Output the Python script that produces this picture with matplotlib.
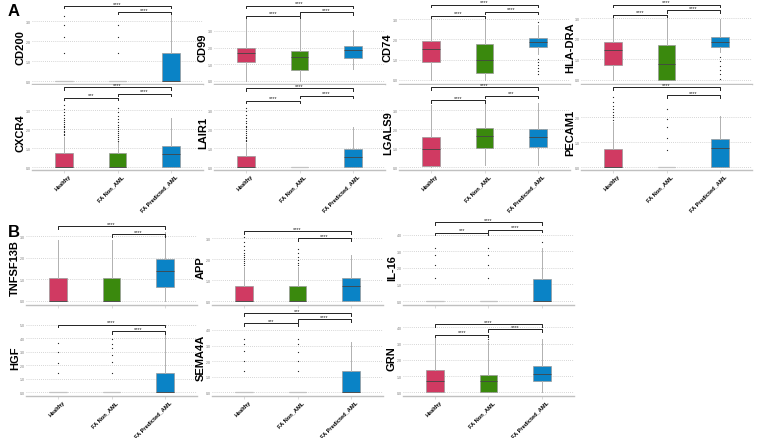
import numpy as np
import matplotlib
matplotlib.use('Agg')
import matplotlib.pyplot as plt
from matplotlib.transforms import ScaledTranslation

plt.rcParams['font.family'] = ['Liberation Sans', 'DejaVu Sans']

groups = ['Healthy', 'FA Non_AML', 'FA Predicted_AML']
genes = ['CD200', 'CD99', 'CD74', 'HLA-DRA',
         'CXCR4', 'LAIR1', 'LGALS9', 'PECAM1',
         'TNFSF13B', 'APP', 'IL-16',
         'HGF', 'SEMA4A', 'GRN']

# box statistics per gene: (Healthy, FA Non_AML, FA Predicted_AML)
whisker_low = [(0, 0, 0), (0, 0, 0.72), (0, 0, 1.3), (0, 0, 1.35),
               (0, 0, 0), (0, 0, 0), (0, 0.1, 0.1), (0, 0, 0),
               (0, 0, 0), (0, 0, 0), (0, 0, 0),
               (0, 0, 0), (0, 0, 0), (0, 0, 0)]
quart1 = [(0, 0, 0), (1.12, 0.68, 1.38), (0.90, 0.33, 1.64), (0.75, 0, 1.61),
          (0, 0, 0), (0, 0, 0), (0.05, 1.0, 1.05), (0, 0, 0),
          (0, 0, 0.63), (0, 0, 0), (0, 0, 0),
          (0, 0, 0), (0, 0, 0), (0, 0, 0.68)]
medians = [(0, 0, 0), (1.68, 1.42, 1.87), (1.53, 0.99, 1.86), (1.48, 0.78, 1.84),
           (0, 0, 0.7), (0, 0, 0.53), (0.95, 1.63, 1.6), (0, 0, 0.76),
           (0, 0, 1.37), (0, 0, 0.7), (0, 0, 0),
           (0, 0, 0), (0, 0, 0), (0.68, 0.68, 1.13)]
quart3 = [(0, 0, 1.4), (1.98, 1.81, 2.08), (1.9, 1.77, 2.08), (1.84, 1.71, 2.10),
          (0.74, 0.74, 1.1), (0.58, 0, 0.95), (1.58, 2.05, 2.0), (0.73, 0, 1.12),
          (1.06, 1.06, 1.94), (0.70, 0.70, 1.1), (0, 0, 1.33),
          (0, 0, 1.43), (0, 0, 1.38), (1.37, 1.08, 1.6)]
whisker_high = [(0, 0, 3.45), (3.7, 3.7, 3.07), (3.1, 3.1, 2.7), (3.1, 3.1, 2.98),
                (1.6, 1.35, 2.58), (1.3, 0, 2.1), (3.3, 3.5, 3.4), (1.8, 0, 2.06),
                (2.84, 2.84, 3.19), (1.6, 1.6, 2.19), (0, 0, 3.17),
                (0, 0, 4.5), (0, 0, 3.2), (3.48, 3.17, 3.28)]

outliers = [
    ([1.4, 2.2, 2.8, 3.25], [1.4, 2.2, 2.8], []),
    ([], [], []),
    ([], [], [0.3, 0.45, 0.6, 0.75, 0.9, 1.05, 2.85]),
    ([], [], [0.05, 0.3, 0.5, 0.7, 0.9, 1.1]),
    ([1.68, 1.76, 1.85, 1.93, 2.02, 2.1, 2.2, 2.3, 2.4, 2.5, 2.62, 2.75, 2.9, 3.05, 3.3, 3.55],
     [1.4, 1.5, 1.6, 1.7, 1.8, 1.9, 2.0, 2.12, 2.25, 2.4, 2.55, 2.7, 2.9, 3.1], []),
    ([1.38, 1.46, 1.54, 1.62, 1.7, 1.8, 1.9, 2.0, 2.1, 2.2, 2.32, 2.45, 2.6, 2.75, 2.95, 3.1], [], []),
    ([], [], []),
    ([1.9, 2.0, 2.1, 2.2, 2.3, 2.45, 2.6, 2.8], [0.69, 1.15, 1.6, 1.93, 2.3], []),
    ([], [], []),
    ([1.7, 1.8, 1.9, 2.0, 2.1, 2.2, 2.3, 2.45, 2.6, 2.8, 3.05], [1.7, 1.8, 1.95, 2.1, 2.3, 2.5], []),
    ([1.37, 2.17, 2.77, 3.17], [1.37, 2.17, 2.77, 3.17], [3.53]),
    ([1.43, 2.2, 3.0, 3.65], [1.43, 2.22, 2.76, 3.26, 3.58, 3.95], []),
    ([1.38, 2.03, 2.67, 3.1, 3.42], [1.38, 2.03, 2.6, 3.1, 3.42], []),
    ([], [3.3, 3.4, 3.5], []),
]

# significance brackets: (group a, group b, height, label)
brackets = [
    [(0, 2, 3.75, '****'), (1, 2, 3.45, '****')],
    [(0, 2, 4.51, '****'), (0, 1, 3.91, '****'), (1, 2, 4.11, '****')],
    [(0, 2, 3.71, '****'), (0, 1, 3.17, '****'), (1, 2, 3.38, '****')],
    [(0, 2, 3.67, '****'), (0, 1, 3.17, '****'), (1, 2, 3.41, '****')],
    [(0, 2, 4.2, '****'), (0, 1, 3.65, '***'), (1, 2, 3.86, '****')],
    [(0, 2, 4.16, '****'), (0, 1, 3.5, '****'), (1, 2, 3.77, '****')],
    [(0, 2, 4.2, '****'), (0, 1, 3.54, '****'), (1, 2, 3.77, '***')],
    [(0, 2, 3.19, '****'), (1, 2, 2.87, '****')],
    [(0, 2, 3.46, '****'), (1, 2, 3.1, '****')],
    [(0, 2, 3.32, '****'), (1, 2, 3.0, '****')],
    [(0, 2, 4.74, '****'), (0, 1, 4.1, '***'), (1, 2, 4.3, '****')],
    [(0, 2, 5.0, '****'), (1, 2, 4.52, '****')],
    [(0, 2, 5.06, '***'), (0, 1, 4.42, '***'), (1, 2, 4.69, '****')],
    [(0, 2, 4.2, '****'), (0, 1, 3.54, '****'), (1, 2, 3.9, '****')],
]

y_limits = [(-0.15, 4.0), (-0.18, 4.79), (-0.2, 3.9), (-0.2, 3.85),
            (-0.14, 4.33), (-0.14, 4.33), (-0.14, 4.33), (-0.1, 3.27),
            (-0.19, 3.75), (-0.19, 3.86), (-0.24, 4.88),
            (-0.27, 6.1), (-0.24, 5.28), (-0.23, 5.07)]
top_tick = [3, 3, 3, 3, 3, 3, 3, 2, 3, 3, 4, 5, 4, 4]

colors = ['#D03A62', '#3A890D', '#0A83C6']

# layout in pixels
W, H = 761, 439
unit = 53.5
cols_a = [64, 246, 431, 613]
cols_b = [58, 244, 435]
rows = [(2, 85), (86, 171), (221, 306), (311, 397)]

panels = []
for i in range(4):
    panels.append((cols_a[i], rows[0], False))
for i in range(4):
    panels.append((cols_a[i], rows[1], True))
for i in range(3):
    panels.append((cols_b[i], rows[2], False))
for i in range(3):
    panels.append((cols_b[i], rows[3], True))

fig = plt.figure(figsize=(W / 100, H / 100), dpi=100, facecolor='w')
shift = ScaledTranslation(0.04, 0, fig.dpi_scale_trans)

for k, gene in enumerate(genes):
    xh, (top, bot), show_labels = panels[k]
    left = xh - 0.6 * unit
    ax = fig.add_axes([left / W, 1 - bot / H, 3.2 * unit / W, (bot - top) / H])

    stats = []
    for g in range(3):
        stats.append(dict(whislo=whisker_low[k][g], q1=quart1[k][g], med=medians[k][g],
                          q3=quart3[k][g], whishi=whisker_high[k][g],
                          fliers=np.array(outliers[k][g])))
    bp = ax.bxp(stats, positions=[1, 2, 3], widths=0.32, patch_artist=True,
                showcaps=False,
                boxprops=dict(edgecolor='#9a9a9a', linewidth=0.5),
                medianprops=dict(color='#444444', linewidth=0.6),
                whiskerprops=dict(color='#b0b0b0', linewidth=0.7),
                flierprops=dict(marker='o', markersize=0.9, markerfacecolor='#222222',
                                markeredgewidth=0, linestyle='none'))
    for g, (patch, c) in enumerate(zip(bp['boxes'], colors)):
        patch.set_facecolor(c)
        if quart1[k][g] == quart3[k][g]:
            bp['medians'][g].set_color('#c4c4c4')
            bp['medians'][g].set_linewidth(0.9)

    ax.set_xlim(0.4, 3.6)
    ax.set_ylim(*y_limits[k])
    ticks = np.arange(0, top_tick[k] + 1)
    ax.set_yticks(ticks)
    ax.set_yticklabels([f'{t:.1f}' for t in ticks], fontsize=2.5, color='#777777')
    ax.tick_params(axis='y', length=0, pad=1)
    ax.yaxis.grid(True, linestyle=(0, (1, 1.5)), color='#c8c8c8', linewidth=0.6)
    ax.set_axisbelow(True)
    for s in ['top', 'right', 'left']:
        ax.spines[s].set_visible(False)
    ax.spines['bottom'].set_color('#c0c0c0')
    ax.spines['bottom'].set_linewidth(1.0)

    ax.set_xticks([1, 2, 3])
    ax.tick_params(axis='x', length=2, width=0.4, color='#c0c0c0', pad=0.5)
    if show_labels:
        labels = ax.set_xticklabels(groups, rotation=45, ha='right', va='top',
                                    rotation_mode='anchor', fontsize=4.1,
                                    fontweight='bold')
        for t in labels:
            t.set_transform(t.get_transform() + shift)
    else:
        ax.set_xticklabels([])

    ax.set_ylabel(gene, fontsize=8, fontweight='bold')
    ax.yaxis.set_label_coords(-0.035, 0.45)

    # significance brackets
    yr = y_limits[k][1] - y_limits[k][0]
    tip = 0.03 * yr
    for a, b, yb, lab in brackets[k]:
        ax.plot([a + 1, a + 1, b + 1, b + 1], [yb - tip, yb, yb, yb - tip],
                color='#222222', linewidth=0.7, clip_on=False)
        ax.text((a + b) / 2 + 1, yb + 0.005 * yr, lab, ha='center', va='bottom',
                fontsize=4, color='#222222', clip_on=False)

fig.text(8 / W, 1 - 12 / H, 'A', fontsize=12, fontweight='bold', va='center')
fig.text(8 / W, 1 - 233 / H, 'B', fontsize=12, fontweight='bold', va='center')

fig.savefig('out.png', dpi=100, facecolor='w')
